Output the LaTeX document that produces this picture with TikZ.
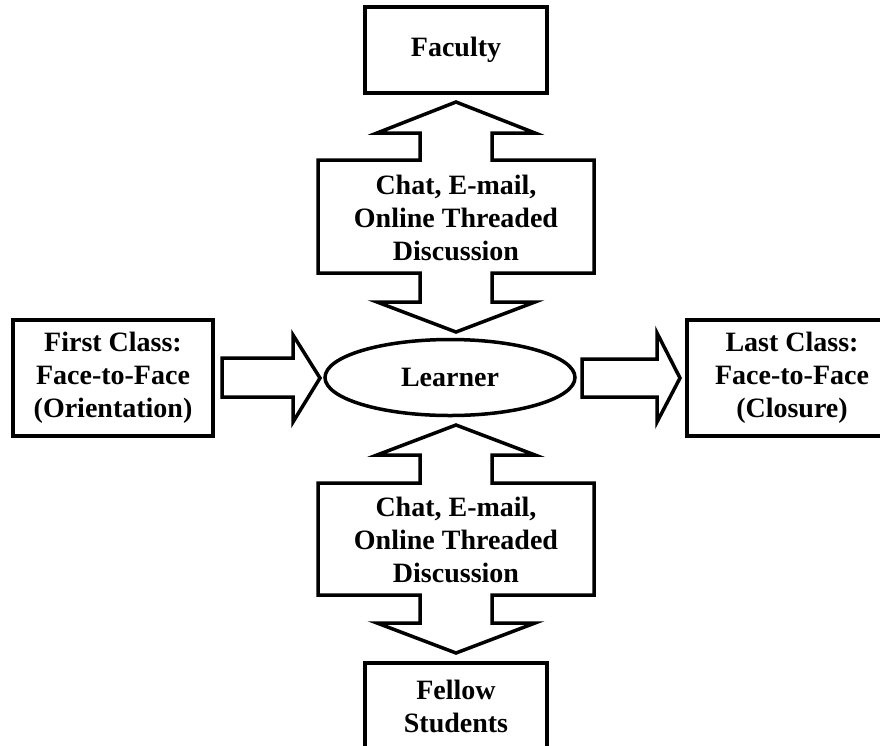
\documentclass[tikz,border=0pt]{standalone}
\usepackage{fontspec}
\setmainfont{Liberation Serif}
\usetikzlibrary{shapes.geometric}
\tikzset{
  lbl/.style={font=\bfseries\fontsize{28}{33}\selectfont, align=center, inner sep=0pt},
  boxnode/.style={draw, line width=3.5pt, rectangle, lbl},
  blockarrow/.style={draw, line width=3.5pt, line join=miter, fill=white},
  learnernode/.style={draw, line width=3.5pt, ellipse, lbl, minimum width=250pt, minimum height=76pt}
}
\begin{document}
\begin{tikzpicture}[x=1pt,y=-1pt]
\useasboundingbox (0,0) rectangle (880,745);
\clip (0,0) rectangle (880,745);
\fill[white] (0,0) rectangle (880,745);

% boxes
\node[boxnode, minimum width=182pt, minimum height=86pt] (faculty) at (456,50) {Faculty};
\node[boxnode, minimum width=200pt, minimum height=116pt] (first) at (113,378) {First Class:\\Face-to-Face\\(Orientation)};
\node[boxnode, minimum width=210pt, minimum height=116pt] (last) at (792,378) {Last Class:\\Face-to-Face\\(Closure)};
\node[boxnode, minimum width=182pt, minimum height=86pt] (students) at (456,706) {Fellow\\Students};
\node[learnernode] (learner) at (450,377.5) {Learner};

% top double arrow
\draw[blockarrow] (456,102) -- (535,133) -- (492,133) -- (492,160) -- (594,160) -- (594,273)
  -- (492,273) -- (492,302) -- (535,302) -- (456,332) -- (377,302) -- (420,302) -- (420,273)
  -- (318,273) -- (318,160) -- (420,160) -- (420,133) -- (377,133) -- cycle;
\node[lbl] (topchan) at (456,218) {Chat, E-mail,\\Online Threaded\\Discussion};

% bottom double arrow
\draw[blockarrow] (456,425) -- (535,455) -- (492,455) -- (492,483) -- (594,483) -- (594,595)
  -- (492,595) -- (492,623) -- (535,623) -- (456,653) -- (377,623) -- (420,623) -- (420,595)
  -- (318,595) -- (318,483) -- (420,483) -- (420,455) -- (377,455) -- cycle;
\node[lbl] (botchan) at (456,540) {Chat, E-mail,\\Online Threaded\\Discussion};

% horizontal arrows
\draw[blockarrow] (222,358) -- (293,358) -- (293,335) -- (320,378) -- (293,422) -- (293,397) -- (222,397) -- cycle;
\draw[blockarrow] (582,359) -- (657,359) -- (657,333) -- (680,378) -- (657,422) -- (657,397) -- (582,397) -- cycle;
\end{tikzpicture}
\end{document}
